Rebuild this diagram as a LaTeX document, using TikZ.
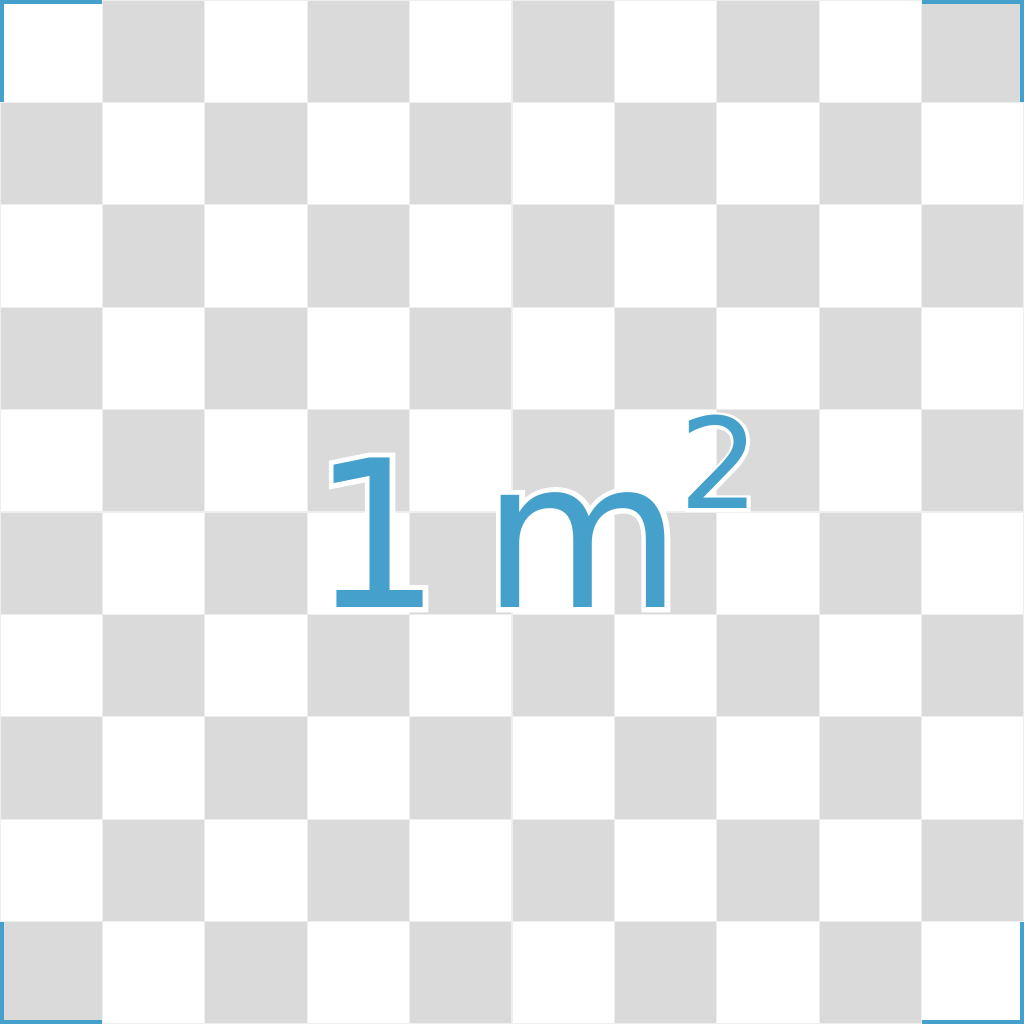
\documentclass[tikz,border=0pt]{standalone}
\usepackage{fontspec}
\newfontfamily\labelfont{DejaVu Sans}
\newfontfamily\haloFont[FakeBold=5]{DejaVu Sans}
\definecolor{mblue}{RGB}{69,161,203}
\definecolor{cellgrey}{RGB}{218,218,218}
\definecolor{gridline}{RGB}{238,238,238}
\begin{document}
\begin{tikzpicture}
\tikzset{
  bigtxt/.style={font=\labelfont\fontsize{57}{60}\selectfont, anchor=base, inner sep=0pt, text=mblue},
  suptxt/.style={font=\labelfont\fontsize{35}{38}\selectfont, anchor=base, inner sep=0pt, text=mblue},
  bighalo/.style={font=\haloFont\fontsize{57}{60}\selectfont, anchor=base, inner sep=0pt, text=white},
  suphalo/.style={font=\haloFont\fontsize{35}{38}\selectfont, anchor=base, inner sep=0pt, text=white},
  corner/.style={fill=mblue}
}
\useasboundingbox (0,0) rectangle (10,10);
\fill[white] (0,0) rectangle (10,10);
\foreach \i in {0,...,9} \foreach \j in {0,...,9} {
  \pgfmathtruncatemacro\parity{mod(\i+\j,2)}
  \ifnum\parity=0 \fill[cellgrey] (\i,\j) rectangle ++(1,1); \fi
}
\draw[gridline, line width=0.35pt] (0,0) grid (10,10);
% corner marks
\def\t{0.04}
\fill[corner] (0,9) rectangle (\t,10);
\fill[corner] (0,10-\t) rectangle (1,10);
\fill[corner] (10-\t,9) rectangle (10,10);
\fill[corner] (9,10-\t) rectangle (10,10);
\fill[corner] (0,0) rectangle (\t,1);
\fill[corner] (0,0) rectangle (1,\t);
\fill[corner] (10-\t,0) rectangle (10,1);
\fill[corner] (9,0) rectangle (10,\t);
% white halo behind the text
\node[bighalo] (onehalo) at (3.68,4.07) {1};
\node[bighalo] (mhalo) at (5.69,4.07) {m};
\node[suphalo] (twohalo) at (7.03,5.03) {2};
% text
\node[bigtxt] (one) at (3.68,4.07) {1};
\node[bigtxt] (m) at (5.69,4.07) {m};
\node[suptxt] (two) at (7.03,5.03) {2};
\end{tikzpicture}
\end{document}
